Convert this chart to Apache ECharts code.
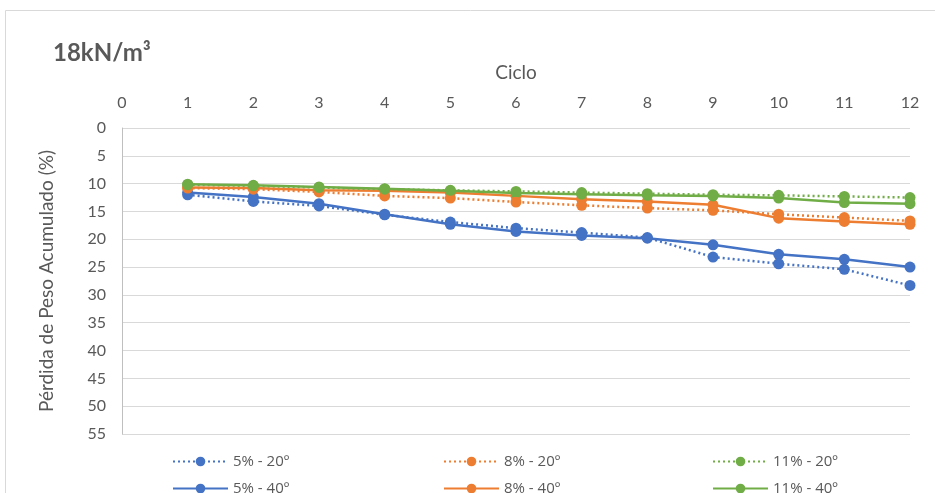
<!DOCTYPE html>
<html><head><meta charset="utf-8">
<script src="https://cdn.jsdelivr.net/npm/echarts@6/dist/echarts.min.js"></script>
<style>html,body{margin:0;padding:0;background:#fff}#c{width:935px;height:493px}</style>
</head><body><div id="c"></div>
<script>
const cycles = [1,2,3,4,5,6,7,8,9,10,11,12];
const s5_20  = [12.0,13.2,14.0,15.6,16.9,18.0,18.8,19.7,23.2,24.4,25.4,28.3];
const s5_40  = [11.6,12.4,13.6,15.5,17.3,18.6,19.3,19.8,21.0,22.7,23.6,25.0];
const s8_20  = [10.8,11.0,11.5,12.2,12.6,13.3,13.9,14.4,14.8,15.5,16.1,16.7];
const s8_40  = [10.7,10.8,11.2,11.3,11.6,12.2,12.8,13.2,13.8,16.2,16.8,17.3];
const s11_20 = [10.2,10.4,10.7,11.0,11.2,11.4,11.6,11.8,12.0,12.1,12.3,12.5];
const s11_40 = [10.1,10.3,10.6,10.9,11.3,11.7,11.9,12.1,12.2,12.6,13.4,13.6];
const xTicks = [0,1,2,3,4,5,6,7,8,9,10,11,12];
const yTicks = [0,5,10,15,20,25,30,35,40,45,50,55];
const names = ['5% - 20º','5% - 40º','8% - 20º','8% - 40º','11% - 20º','11% - 40º'];

const BLUE='#4472C4', ORANGE='#ED7D31', GREEN='#70AD47';
const FONT='Lato';
const txt='#595959';
function mk(name, vals, color, dotted){
  return {
    name, type:'line', data: cycles.map((c,i)=>[c, vals[i]]),
    symbol:'circle', symbolSize:11, showSymbol:true,
    lineStyle:{color, width:2.5, type: dotted?[2,3]:'solid'},
    itemStyle:{color}, z: dotted?3:2
  };
}
const colLeft=[167,438,707], rowTop=[449,476];
const legends = names.map((n,i)=>({
  left: colLeft[Math.floor(i/2)], top: rowTop[i%2], data:[n],
  itemWidth:55, itemHeight:12, itemGap:8,
  textStyle:{fontFamily:'Open Sans', fontSize:15, color:txt}
}));
const chart = echarts.init(document.getElementById('c'), null, {renderer:'canvas'});
chart.setOption({
  animation:false,
  textStyle:{fontFamily:FONT},
  title:{text:'18kN/m³', left:48, top:36, textStyle:{fontFamily:FONT, fontSize:24, fontWeight:'bold', color:txt}},
  graphic:[{type:'rect', shape:{x:5.5,y:10.5,width:940,height:500}, style:{fill:'none', stroke:'#d9d9d9', lineWidth:1}, silent:true, z:-1}],
  grid:{left:122, right:25, top:128, bottom:59},
  legend: legends,
  xAxis:{type:'value', position:'top', min:0, max:12, interval:1,
    name:'Ciclo', nameLocation:'middle', nameGap:46,
    nameTextStyle:{fontFamily:FONT, fontSize:19, color:txt},
    axisLine:{show:false}, axisTick:{show:false},
    axisLabel:{fontFamily:FONT, fontSize:16, color:txt, margin:17,
      formatter:v=>xTicks.includes(v)?String(v):''},
    splitLine:{show:false}},
  yAxis:{type:'value', inverse:true, min:0, max:55, interval:5,
    name:'Pérdida de Peso Acumulado (%)', nameLocation:'middle', nameGap:66,
    nameTextStyle:{fontFamily:FONT, fontSize:19, color:txt},
    axisLine:{show:true, lineStyle:{color:'#bfbfbf'}}, axisTick:{show:false},
    axisLabel:{fontFamily:FONT, fontSize:16, color:txt, margin:16,
      formatter:v=>yTicks.includes(v)?String(v):''},
    splitLine:{show:true, lineStyle:{color:'#d9d9d9', width:1}}},
  series:[
    mk(names[0], s5_20, BLUE, true),
    mk(names[1], s5_40, BLUE, false),
    mk(names[2], s8_20, ORANGE, true),
    mk(names[3], s8_40, ORANGE, false),
    mk(names[4], s11_20, GREEN, true),
    mk(names[5], s11_40, GREEN, false)
  ]
});
</script></body></html>
